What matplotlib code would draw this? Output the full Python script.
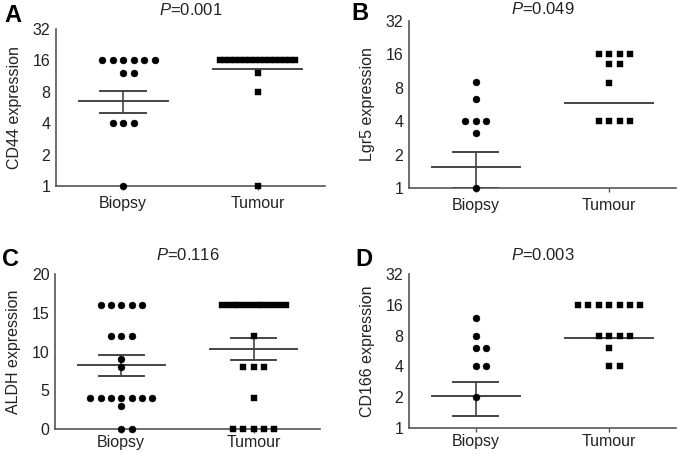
import numpy as np
import matplotlib
matplotlib.use('Agg')
import matplotlib.pyplot as plt

plt.rcParams['font.family'] = ['Liberation Sans', 'DejaVu Sans']
plt.rcParams['mathtext.fontset'] = 'custom'
plt.rcParams['mathtext.it'] = 'Liberation Sans:italic'
plt.rcParams['mathtext.rm'] = 'Liberation Sans'

groups = ['Biopsy', 'Tumour']

# A: CD44
cd44_biopsy = [16]*6 + [12]*2 + [4]*3 + [1]
cd44_tumour = [16]*16 + [12, 8, 1]
cd44_mean = [6.6, 13.1]
cd44_sem = [1.6, None]

# B: Lgr5
lgr5_biopsy = [9, 6.4, 4, 4, 4, 3.1, 1]
lgr5_tumour = [16]*4 + [13]*2 + [8.8] + [4]*4
lgr5_mean = [1.55, 5.8]
lgr5_sem = [0.55, None]

# C: ALDH
aldh_biopsy = [16]*5 + [12]*3 + [9, 8] + [4]*7 + [3] + [0]*2
aldh_tumour = [16]*12 + [12] + [8]*3 + [4] + [0]*5
aldh_mean = [8.2, 10.3]
aldh_sem = [1.3, 1.45]

# D: CD166
cd166_biopsy = [12, 8, 6, 6, 4, 4, 2]
cd166_tumour = [16]*7 + [8]*4 + [6] + [4]*2
cd166_mean = [2.07, 7.5]
cd166_sem = [0.75, None]

W, H = 678, 454
fig = plt.figure(figsize=(W/100, H/100), dpi=100)

LINE = '#444444'
TXT = '#222222'
FS = 11.5


def px_axes(left, top, right, bottom):
    return fig.add_axes([left/W, 1 - bottom/H, (right-left)/W, (bottom-top)/H])


def offsets(vals, step=0.078, maxhalf=0.28):
    # prism-like spread: points with the same value fan out 0, +1, -1, +2 ...
    vals = np.asarray(vals, float)
    xs = np.zeros(len(vals))
    for v in np.unique(vals):
        idx = np.where(vals == v)[0]
        n = len(idx)
        order = np.arange(n) - (n - 1) // 2
        st = step
        if n > 1 and (n - 1) * step / 2 > maxhalf:
            st = 2 * maxhalf / (n - 1)
            order = np.arange(n) - (n - 1) / 2
        xs[idx] = np.sort(order) * st
    return xs


def panel(ax, biopsy, tumour, means, sems, ylabel, ptext, letter, ptop, lpos,
          log=True, maxhalf=0.28, xpad=4):
    for i, (vals, mk, ms) in enumerate([(biopsy, 'o', 5.0), (tumour, 's', 4.4)]):
        xc = i + 1
        ax.plot(xc + offsets(vals, maxhalf=maxhalf), vals, ls='none', marker=mk, ms=ms,
                mew=0.3, color='black', mec='black', clip_on=False, zorder=3)
        ax.plot([xc - 0.33, xc + 0.33], [means[i]]*2, color=LINE, lw=1.4, zorder=2)
        if sems[i] is not None:
            lo, hi = means[i] - sems[i], means[i] + sems[i]
            ax.plot([xc, xc], [lo, hi], color=LINE, lw=1.2, zorder=2)
            for yy in (lo, hi):
                ax.plot([xc - 0.17, xc + 0.17], [yy, yy], color=LINE, lw=1.4, zorder=2)
    ax.set_xlim(0.5, 2.5)
    if log:
        ax.set_yscale('log', base=2)
        ax.set_ylim(1, 32)
        ticks = [1, 2, 4, 8, 16, 32]
        ax.set_yticks(ticks)
        ax.set_yticklabels([str(t) for t in ticks])
        ax.yaxis.set_minor_locator(matplotlib.ticker.NullLocator())
    else:
        ax.set_ylim(0, 20)
        ax.set_yticks([0, 5, 10, 15, 20])
    ax.set_xticks([1, 2])
    ax.set_xticklabels(groups)
    for s in ['top', 'right']:
        ax.spines[s].set_visible(False)
    for s in ['left', 'bottom']:
        ax.spines[s].set_color('#555555')
        ax.spines[s].set_linewidth(1.2)
    ax.tick_params(axis='y', length=0, pad=4, labelsize=FS, colors=TXT)
    ax.tick_params(axis='x', length=3, width=1, color='#555555', pad=xpad,
                   labelsize=FS, labelcolor=TXT)
    ax.set_ylabel(ylabel, fontsize=FS, color=TXT)
    bb = ax.get_position()
    ax.yaxis.set_label_coords(-34 / (bb.width * W), 0.5)
    fig.text((bb.x0 + bb.x1) / 2, 1 - ptop/H, ptext, ha='center', va='center',
             fontsize=12, color=TXT)
    fig.text(lpos[0]/W, 1 - lpos[1]/H, letter, ha='left', va='top',
             fontsize=17, fontweight='bold')


axA = px_axes(56, 29, 325, 186)
panel(axA, cd44_biopsy, cd44_tumour, cd44_mean, cd44_sem, 'CD44 expression',
      r'$P$=0.001', 'A', 10, (4, 4))

axB = px_axes(409, 21, 676, 188)
panel(axB, lgr5_biopsy, lgr5_tumour, lgr5_mean, lgr5_sem, 'Lgr5 expression',
      r'$P$=0.049', 'B', 9, (351, 2))

axC = px_axes(55, 274, 320, 429)
panel(axC, aldh_biopsy, aldh_tumour, aldh_mean, aldh_sem, 'ALDH expression',
      r'$P$=0.116', 'C', 255, (2, 248), log=False, maxhalf=0.24, xpad=1)

axD = px_axes(409, 274, 676, 428)
panel(axD, cd166_biopsy, cd166_tumour, cd166_mean, cd166_sem, 'CD166 expression',
      r'$P$=0.003', 'D', 255, (355, 248), xpad=1.5)

fig.savefig('out.png', dpi=100)
